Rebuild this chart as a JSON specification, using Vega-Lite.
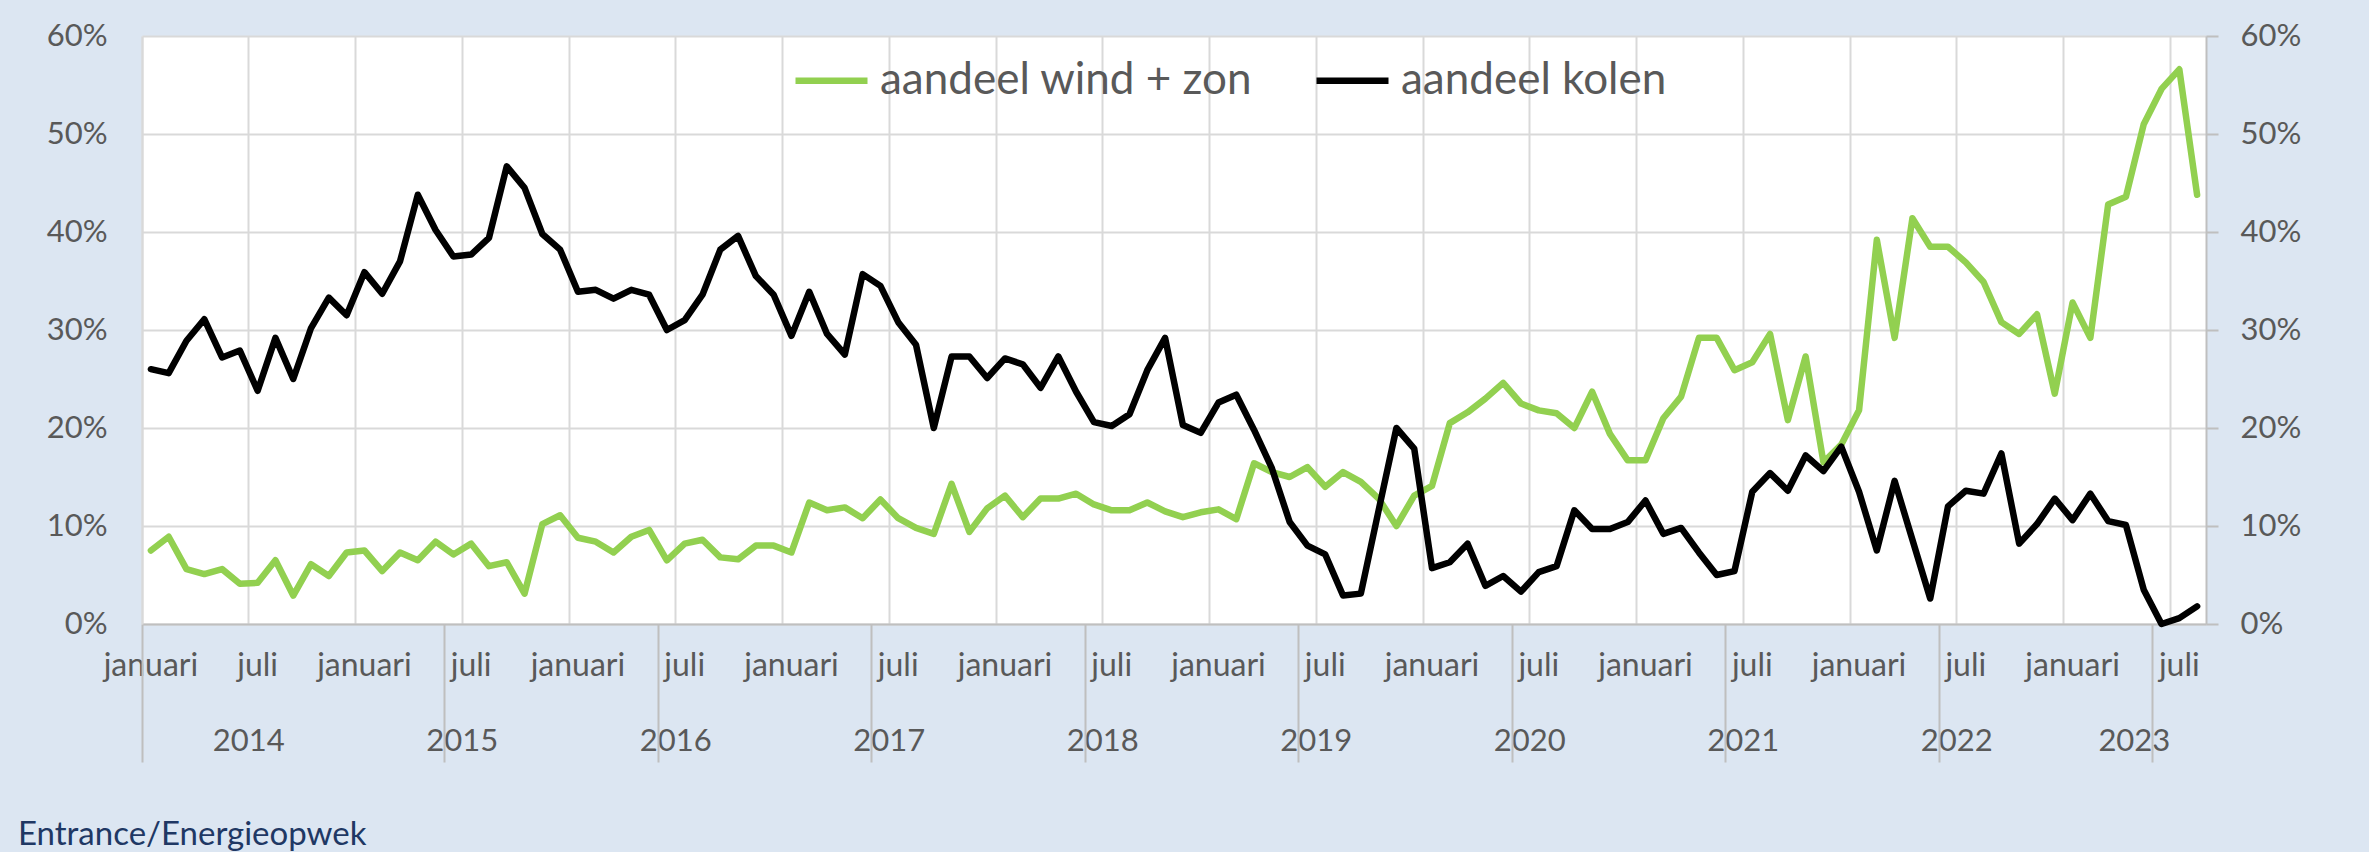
{
  "$schema": "https://vega.github.io/schema/vega-lite/v6.json",
  "width": 2064,
  "height": 588,
  "autosize": {"type": "none"},
  "padding": {"left": 142, "top": 36, "right": 163, "bottom": 228},
  "background": "#dce6f2",
  "config": {"view": {"fill": "white", "stroke": null}, "font": "Lato"},
  "title": {"text": "Entrance/Energieopwek", "orient": "bottom", "anchor": "start", "frame": "group", "dx": -124, "offset": 56, "fontSize": 33, "fontWeight": "normal", "color": "#1f3864", "font": "Lato"},
  "data": {"values": [
    {"maand": "2014-01", "aandeel wind + zon": 7.5, "aandeel kolen": 26.0},
    {"maand": "2014-02", "aandeel wind + zon": 8.9, "aandeel kolen": 25.6},
    {"maand": "2014-03", "aandeel wind + zon": 5.6, "aandeel kolen": 28.9},
    {"maand": "2014-04", "aandeel wind + zon": 5.1, "aandeel kolen": 31.1},
    {"maand": "2014-05", "aandeel wind + zon": 5.6, "aandeel kolen": 27.2},
    {"maand": "2014-06", "aandeel wind + zon": 4.1, "aandeel kolen": 27.9},
    {"maand": "2014-07", "aandeel wind + zon": 4.2, "aandeel kolen": 23.8},
    {"maand": "2014-08", "aandeel wind + zon": 6.5, "aandeel kolen": 29.2},
    {"maand": "2014-09", "aandeel wind + zon": 2.9, "aandeel kolen": 25.0},
    {"maand": "2014-10", "aandeel wind + zon": 6.1, "aandeel kolen": 30.2},
    {"maand": "2014-11", "aandeel wind + zon": 4.9, "aandeel kolen": 33.3},
    {"maand": "2014-12", "aandeel wind + zon": 7.3, "aandeel kolen": 31.5},
    {"maand": "2015-01", "aandeel wind + zon": 7.5, "aandeel kolen": 35.9},
    {"maand": "2015-02", "aandeel wind + zon": 5.4, "aandeel kolen": 33.7},
    {"maand": "2015-03", "aandeel wind + zon": 7.3, "aandeel kolen": 37.0},
    {"maand": "2015-04", "aandeel wind + zon": 6.5, "aandeel kolen": 43.8},
    {"maand": "2015-05", "aandeel wind + zon": 8.4, "aandeel kolen": 40.2},
    {"maand": "2015-06", "aandeel wind + zon": 7.1, "aandeel kolen": 37.5},
    {"maand": "2015-07", "aandeel wind + zon": 8.2, "aandeel kolen": 37.7},
    {"maand": "2015-08", "aandeel wind + zon": 5.9, "aandeel kolen": 39.4},
    {"maand": "2015-09", "aandeel wind + zon": 6.3, "aandeel kolen": 46.7},
    {"maand": "2015-10", "aandeel wind + zon": 3.1, "aandeel kolen": 44.5},
    {"maand": "2015-11", "aandeel wind + zon": 10.2, "aandeel kolen": 39.8},
    {"maand": "2015-12", "aandeel wind + zon": 11.1, "aandeel kolen": 38.2},
    {"maand": "2016-01", "aandeel wind + zon": 8.8, "aandeel kolen": 33.9},
    {"maand": "2016-02", "aandeel wind + zon": 8.4, "aandeel kolen": 34.1},
    {"maand": "2016-03", "aandeel wind + zon": 7.3, "aandeel kolen": 33.2},
    {"maand": "2016-04", "aandeel wind + zon": 8.9, "aandeel kolen": 34.1},
    {"maand": "2016-05", "aandeel wind + zon": 9.6, "aandeel kolen": 33.6},
    {"maand": "2016-06", "aandeel wind + zon": 6.5, "aandeel kolen": 30.0},
    {"maand": "2016-07", "aandeel wind + zon": 8.2, "aandeel kolen": 31.0},
    {"maand": "2016-08", "aandeel wind + zon": 8.6, "aandeel kolen": 33.6},
    {"maand": "2016-09", "aandeel wind + zon": 6.8, "aandeel kolen": 38.2},
    {"maand": "2016-10", "aandeel wind + zon": 6.6, "aandeel kolen": 39.6},
    {"maand": "2016-11", "aandeel wind + zon": 8.0, "aandeel kolen": 35.5},
    {"maand": "2016-12", "aandeel wind + zon": 8.0, "aandeel kolen": 33.6},
    {"maand": "2017-01", "aandeel wind + zon": 7.3, "aandeel kolen": 29.4},
    {"maand": "2017-02", "aandeel wind + zon": 12.4, "aandeel kolen": 33.9},
    {"maand": "2017-03", "aandeel wind + zon": 11.6, "aandeel kolen": 29.6},
    {"maand": "2017-04", "aandeel wind + zon": 11.9, "aandeel kolen": 27.5},
    {"maand": "2017-05", "aandeel wind + zon": 10.8, "aandeel kolen": 35.7},
    {"maand": "2017-06", "aandeel wind + zon": 12.7, "aandeel kolen": 34.5},
    {"maand": "2017-07", "aandeel wind + zon": 10.8, "aandeel kolen": 30.8},
    {"maand": "2017-08", "aandeel wind + zon": 9.8, "aandeel kolen": 28.5},
    {"maand": "2017-09", "aandeel wind + zon": 9.2, "aandeel kolen": 20.0},
    {"maand": "2017-10", "aandeel wind + zon": 14.3, "aandeel kolen": 27.3},
    {"maand": "2017-11", "aandeel wind + zon": 9.4, "aandeel kolen": 27.3},
    {"maand": "2017-12", "aandeel wind + zon": 11.8, "aandeel kolen": 25.1},
    {"maand": "2018-01", "aandeel wind + zon": 13.1, "aandeel kolen": 27.1},
    {"maand": "2018-02", "aandeel wind + zon": 10.9, "aandeel kolen": 26.5},
    {"maand": "2018-03", "aandeel wind + zon": 12.8, "aandeel kolen": 24.1},
    {"maand": "2018-04", "aandeel wind + zon": 12.8, "aandeel kolen": 27.3},
    {"maand": "2018-05", "aandeel wind + zon": 13.3, "aandeel kolen": 23.7},
    {"maand": "2018-06", "aandeel wind + zon": 12.2, "aandeel kolen": 20.6},
    {"maand": "2018-07", "aandeel wind + zon": 11.6, "aandeel kolen": 20.2},
    {"maand": "2018-08", "aandeel wind + zon": 11.6, "aandeel kolen": 21.4},
    {"maand": "2018-09", "aandeel wind + zon": 12.4, "aandeel kolen": 25.9},
    {"maand": "2018-10", "aandeel wind + zon": 11.5, "aandeel kolen": 29.2},
    {"maand": "2018-11", "aandeel wind + zon": 10.9, "aandeel kolen": 20.3},
    {"maand": "2018-12", "aandeel wind + zon": 11.4, "aandeel kolen": 19.5},
    {"maand": "2019-01", "aandeel wind + zon": 11.7, "aandeel kolen": 22.6},
    {"maand": "2019-02", "aandeel wind + zon": 10.7, "aandeel kolen": 23.4},
    {"maand": "2019-03", "aandeel wind + zon": 16.4, "aandeel kolen": 19.8},
    {"maand": "2019-04", "aandeel wind + zon": 15.5, "aandeel kolen": 15.9},
    {"maand": "2019-05", "aandeel wind + zon": 15.0, "aandeel kolen": 10.4},
    {"maand": "2019-06", "aandeel wind + zon": 16.0, "aandeel kolen": 8.0},
    {"maand": "2019-07", "aandeel wind + zon": 14.0, "aandeel kolen": 7.1},
    {"maand": "2019-08", "aandeel wind + zon": 15.5, "aandeel kolen": 2.9},
    {"maand": "2019-09", "aandeel wind + zon": 14.5, "aandeel kolen": 3.1},
    {"maand": "2019-10", "aandeel wind + zon": 12.8, "aandeel kolen": 11.6},
    {"maand": "2019-11", "aandeel wind + zon": 10.0, "aandeel kolen": 20.0},
    {"maand": "2019-12", "aandeel wind + zon": 13.1, "aandeel kolen": 17.9},
    {"maand": "2020-01", "aandeel wind + zon": 14.1, "aandeel kolen": 5.7},
    {"maand": "2020-02", "aandeel wind + zon": 20.5, "aandeel kolen": 6.3},
    {"maand": "2020-03", "aandeel wind + zon": 21.6, "aandeel kolen": 8.2},
    {"maand": "2020-04", "aandeel wind + zon": 23.0, "aandeel kolen": 3.9},
    {"maand": "2020-05", "aandeel wind + zon": 24.6, "aandeel kolen": 4.9},
    {"maand": "2020-06", "aandeel wind + zon": 22.5, "aandeel kolen": 3.3},
    {"maand": "2020-07", "aandeel wind + zon": 21.8, "aandeel kolen": 5.3},
    {"maand": "2020-08", "aandeel wind + zon": 21.5, "aandeel kolen": 5.9},
    {"maand": "2020-09", "aandeel wind + zon": 20.0, "aandeel kolen": 11.6},
    {"maand": "2020-10", "aandeel wind + zon": 23.7, "aandeel kolen": 9.7},
    {"maand": "2020-11", "aandeel wind + zon": 19.4, "aandeel kolen": 9.7},
    {"maand": "2020-12", "aandeel wind + zon": 16.7, "aandeel kolen": 10.4},
    {"maand": "2021-01", "aandeel wind + zon": 16.7, "aandeel kolen": 12.6},
    {"maand": "2021-02", "aandeel wind + zon": 21.0, "aandeel kolen": 9.2},
    {"maand": "2021-03", "aandeel wind + zon": 23.2, "aandeel kolen": 9.8},
    {"maand": "2021-04", "aandeel wind + zon": 29.2, "aandeel kolen": 7.3},
    {"maand": "2021-05", "aandeel wind + zon": 29.2, "aandeel kolen": 5.0},
    {"maand": "2021-06", "aandeel wind + zon": 25.9, "aandeel kolen": 5.4},
    {"maand": "2021-07", "aandeel wind + zon": 26.7, "aandeel kolen": 13.5},
    {"maand": "2021-08", "aandeel wind + zon": 29.6, "aandeel kolen": 15.4},
    {"maand": "2021-09", "aandeel wind + zon": 20.8, "aandeel kolen": 13.6},
    {"maand": "2021-10", "aandeel wind + zon": 27.3, "aandeel kolen": 17.2},
    {"maand": "2021-11", "aandeel wind + zon": 16.5, "aandeel kolen": 15.6},
    {"maand": "2021-12", "aandeel wind + zon": 18.3, "aandeel kolen": 18.1},
    {"maand": "2022-01", "aandeel wind + zon": 21.8, "aandeel kolen": 13.5},
    {"maand": "2022-02", "aandeel wind + zon": 39.2, "aandeel kolen": 7.5},
    {"maand": "2022-03", "aandeel wind + zon": 29.2, "aandeel kolen": 14.6},
    {"maand": "2022-04", "aandeel wind + zon": 41.4, "aandeel kolen": 8.6},
    {"maand": "2022-05", "aandeel wind + zon": 38.5, "aandeel kolen": 2.6},
    {"maand": "2022-06", "aandeel wind + zon": 38.5, "aandeel kolen": 12.0},
    {"maand": "2022-07", "aandeel wind + zon": 36.9, "aandeel kolen": 13.6},
    {"maand": "2022-08", "aandeel wind + zon": 34.9, "aandeel kolen": 13.3},
    {"maand": "2022-09", "aandeel wind + zon": 30.8, "aandeel kolen": 17.4},
    {"maand": "2022-10", "aandeel wind + zon": 29.6, "aandeel kolen": 8.2},
    {"maand": "2022-11", "aandeel wind + zon": 31.6, "aandeel kolen": 10.2},
    {"maand": "2022-12", "aandeel wind + zon": 23.5, "aandeel kolen": 12.8},
    {"maand": "2023-01", "aandeel wind + zon": 32.8, "aandeel kolen": 10.6},
    {"maand": "2023-02", "aandeel wind + zon": 29.2, "aandeel kolen": 13.3},
    {"maand": "2023-03", "aandeel wind + zon": 42.8, "aandeel kolen": 10.5},
    {"maand": "2023-04", "aandeel wind + zon": 43.6, "aandeel kolen": 10.1},
    {"maand": "2023-05", "aandeel wind + zon": 51.0, "aandeel kolen": 3.5},
    {"maand": "2023-06", "aandeel wind + zon": 54.6, "aandeel kolen": 0.0},
    {"maand": "2023-07", "aandeel wind + zon": 56.6, "aandeel kolen": 0.6},
    {"maand": "2023-08", "aandeel wind + zon": 43.8, "aandeel kolen": 1.8}
  ]},
  "transform": [{"fold": ["aandeel wind + zon", "aandeel kolen"], "as": ["serie", "waarde"]}],
  "layer": [
    {
      "mark": {"type": "line", "strokeWidth": 6.5, "strokeJoin": "round", "strokeCap": "round"},
      "encoding": {
        "x": {
          "field": "maand", "type": "ordinal", "bandPosition": 0.5,
          "scale": {"type": "band", "paddingInner": 0, "paddingOuter": 0},
          "axis": {
            "title": null, "orient": "bottom",
            "values": ["2014-01","2014-07","2015-01","2015-07","2016-01","2016-07","2017-01","2017-07","2018-01","2018-07","2019-01","2019-07","2020-01","2020-07","2021-01","2021-07","2022-01","2022-07","2023-01","2023-07"],
            "bandPosition": 0, "labelOffset": 0,
            "labelExpr": "slice(datum.value, 5) == '01' ? 'januari' : 'juli'",
            "grid": true, "gridColor": "#d9d9d9", "gridWidth": 2,
            "ticks": false, "domain": true, "domainColor": "#bfbfbf", "domainWidth": 2,
            "labelPadding": 26, "labelFontSize": 32, "labelColor": "#595959", "labelFont": "Lato",
            "labelAngle": 0, "labelOverlap": false, "labelBaseline": "top"
          }
        },
        "y": {
          "field": "waarde", "type": "quantitative",
          "scale": {"domain": [0, 60], "nice": false},
          "axis": {
            "title": null, "orient": "left", "values": [0, 10, 20, 30, 40, 50, 60],
            "labelExpr": "datum.value + '%'",
            "grid": true, "gridColor": "#d9d9d9", "gridWidth": 2,
            "ticks": false, "domain": true, "domainColor": "#d9d9d9", "domainWidth": 2,
            "labelPadding": 35, "labelFontSize": 31, "labelColor": "#595959", "labelFont": "Lato"
          }
        },
        "color": {
          "field": "serie", "type": "nominal",
          "scale": {"domain": ["aandeel wind + zon", "aandeel kolen"], "range": ["#92d050", "#000000"]},
          "legend": {
            "title": null, "orient": "none", "legendX": 650, "legendY": 5, "direction": "horizontal",
            "symbolType": "stroke", "symbolStrokeWidth": 6.5, "symbolSize": 5184,
            "labelFontSize": 44, "labelColor": "#595959", "labelFont": "Lato", "labelLimit": 1000,
            "labelOffset": 9, "columnPadding": 50
          }
        }
      }
    },
    {
      "mark": {"type": "line", "opacity": 0},
      "encoding": {
        "x": {
          "field": "maand", "type": "ordinal", "bandPosition": 0.5,
          "scale": {"type": "band", "paddingInner": 0, "paddingOuter": 0},
          "axis": {
            "title": null, "orient": "bottom",
            "values": ["2014-07","2015-07","2016-07","2017-07","2018-07","2019-07","2020-07","2021-07","2022-07","2023-07"],
            "bandPosition": 0, "labelOffset": -9,
            "labelExpr": "slice(datum.value, 0, 4)",
            "labelAlign": {"condition": {"test": "datum.value == '2023-07'", "value": "right"}, "value": "center"},
            "grid": false, "ticks": false, "domain": false,
            "labelPadding": 102, "labelFontSize": 31, "labelColor": "#595959", "labelFont": "Lato",
            "labelAngle": 0, "labelOverlap": false, "labelBaseline": "top"
          }
        },
        "y": {
          "field": "waarde", "type": "quantitative",
          "scale": {"domain": [0, 60], "nice": false},
          "axis": {
            "title": null, "orient": "right", "values": [0, 10, 20, 30, 40, 50, 60],
            "labelExpr": "datum.value + '%'",
            "grid": false, "ticks": true, "tickSize": 12, "tickColor": "#bfbfbf", "tickWidth": 2,
            "domain": true, "domainColor": "#bfbfbf", "domainWidth": 2,
            "labelPadding": 22, "labelFontSize": 31, "labelColor": "#595959", "labelFont": "Lato"
          }
        },
        "detail": {"field": "serie"}
      }
    },
    {
      "mark": {"type": "line", "opacity": 0},
      "encoding": {
        "x": {
          "field": "maand", "type": "ordinal", "bandPosition": 0.5,
          "scale": {"type": "band", "paddingInner": 0, "paddingOuter": 0},
          "axis": {
            "title": null, "orient": "bottom",
            "values": ["2014-01","2015-06","2016-06","2017-06","2018-06","2019-06","2020-06","2021-06","2022-06","2023-06"],
            "bandPosition": 0, "labels": false,
            "grid": false, "ticks": true, "tickSize": 138, "tickColor": "#bfbfbf", "tickWidth": 2, "domain": false
          }
        },
        "y": {"field": "waarde", "type": "quantitative", "scale": {"domain": [0, 60], "nice": false}, "axis": null},
        "detail": {"field": "serie"}
      }
    }
  ],
  "resolve": {"axis": {"x": "independent", "y": "independent"}}
}
